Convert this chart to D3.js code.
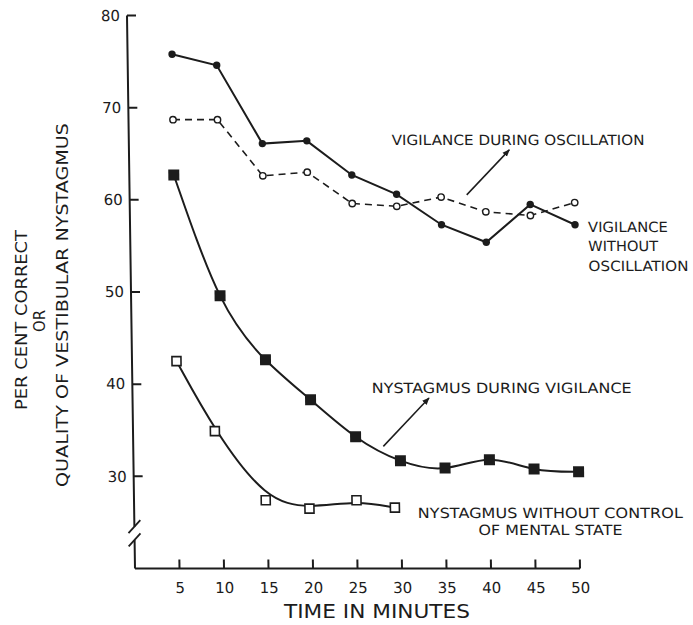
<!DOCTYPE html>
<html>
<head>
<meta charset="utf-8">
<script src="https://cdn.jsdelivr.net/npm/d3@7"></script>
<style>
body { margin: 0; background: #fff; }
svg { display: block; font-family: "DejaVu Sans", sans-serif; }
</style>
</head>
<body>
<div id="chart"></div>
<script>
var width = 693;
var height = 625;
var ink = "#1c1c1c";

// minutes of the session
var minutes = [5, 10, 15, 20, 25, 30, 35, 40, 45, 50];
var yTicks = [30, 40, 50, 60, 70, 80];

// per cent correct
var vigilanceWithout = [75.8, 74.6, 66.1, 66.4, 62.7, 60.6, 57.3, 55.4, 59.5, 57.3];
var vigilanceDuring = [68.7, 68.7, 62.6, 63.0, 59.6, 59.3, 60.3, 58.7, 58.3, 59.7];

// quality of vestibular nystagmus
var nystagmusVigilance = [62.7, 49.6, 42.65, 38.3, 34.3, 31.7, 30.9, 31.8, 30.8, 30.5];
var uncontrolledMinutes = [5, 9.2, 14.8, 19.7, 25, 29.3];
var nystagmusUncontrolled = [42.5, 34.9, 27.4, 26.5, 27.4, 26.6];

var svg = d3.select("#chart")
    .append("svg")
    .attr("width", width)
    .attr("height", height);

svg.append("rect")
    .attr("width", width)
    .attr("height", height)
    .attr("fill", "#fff");

svg.append("defs")
    .append("marker")
    .attr("id", "head")
    .attr("viewBox", "0 0 10 10")
    .attr("refX", 9)
    .attr("refY", 5)
    .attr("markerWidth", 5)
    .attr("markerHeight", 5)
    .attr("orient", "auto")
    .append("path")
    .attr("d", "M0,1L10,5L0,9z")
    .attr("fill", ink);

var x = d3.scaleLinear()
    .domain([0, 50])
    .range([135, 580]);

var y = d3.scaleLinear()
    .domain([20, 80])
    .range([568.5, 15.5]);

// the original drawing leans a little: left axis tilts right toward the bottom
var plot = svg.append("g")
    .attr("transform", "translate(0," + y(20) + ") skewX(0.83) translate(0," + (-y(20)) + ")");

// x axis (labels from d3, tick marks drawn inward by hand)
var gx = plot.append("g")
    .attr("transform", "translate(0," + y(20) + ")")
    .call(d3.axisBottom(x)
        .tickValues(minutes)
        .tickSize(0)
        .tickPadding(14));
gx.select(".domain").remove();
gx.selectAll("line").remove();
gx.attr("font-size", 15).attr("font-family", null);
gx.selectAll("text").attr("fill", ink);

plot.selectAll(".xtick")
    .data(minutes)
    .enter()
    .append("line")
    .attr("x1", function(d) { return x(d); })
    .attr("x2", function(d) { return x(d); })
    .attr("y1", y(20))
    .attr("y2", y(20) - 9)
    .attr("stroke", ink)
    .attr("stroke-width", 2);

plot.append("line")
    .attr("x1", x(0))
    .attr("x2", x(50))
    .attr("y1", y(20))
    .attr("y2", y(20))
    .attr("stroke", ink)
    .attr("stroke-width", 2);

// y axis
var gy = plot.append("g")
    .attr("transform", "translate(" + x(0) + ",0)")
    .call(d3.axisLeft(y)
        .tickValues(yTicks)
        .tickSize(0)
        .tickPadding(7));
gy.select(".domain").remove();
gy.selectAll("line").remove();
gy.attr("font-size", 15).attr("font-family", null);
gy.selectAll("text").attr("fill", ink);

plot.selectAll(".ytick")
    .data(yTicks)
    .enter()
    .append("line")
    .attr("x1", x(0))
    .attr("x2", x(0) + 9)
    .attr("y1", function(d) { return y(d); })
    .attr("y2", function(d) { return y(d); })
    .attr("stroke", ink)
    .attr("stroke-width", 2);

var breakHigh = 24.54;
var breakLow = 23.1;

plot.append("path")
    .attr("d", "M" + x(0) + "," + y(80) + "V" + y(breakHigh) +
        "M" + x(0) + "," + y(breakLow) + "V" + y(20))
    .attr("fill", "none")
    .attr("stroke", ink)
    .attr("stroke-width", 2);

[breakHigh, breakLow].forEach(function(b) {
    plot.append("line")
        .attr("x1", x(0) - 6)
        .attr("y1", y(b) + 6.5)
        .attr("x2", x(0) + 6)
        .attr("y2", y(b) - 6.5)
        .attr("stroke", ink)
        .attr("stroke-width", 1.8);
});

// series
function pairs(xs, ys) {
    return ys.map(function(v, i) {
        return {m: xs[i], v: v};
    });
}

function line(curve) {
    return d3.line()
        .x(function(d) { return x(d.m); })
        .y(function(d) { return y(d.v); })
        .curve(curve);
}

var without = pairs(minutes, vigilanceWithout);
var during = pairs(minutes, vigilanceDuring);
var nysV = pairs(minutes, nystagmusVigilance);
var nysU = pairs(uncontrolledMinutes, nystagmusUncontrolled);

plot.append("path")
    .datum(nysV)
    .attr("fill", "none")
    .attr("stroke", ink)
    .attr("stroke-width", 2)
    .attr("d", line(d3.curveNatural));

// hand-faired curve: smoothed rather than through every square
plot.append("path")
    .datum(nysU)
    .attr("fill", "none")
    .attr("stroke", ink)
    .attr("stroke-width", 2)
    .attr("d", line(d3.curveBasis));

plot.append("path")
    .datum(during)
    .attr("fill", "none")
    .attr("stroke", ink)
    .attr("stroke-width", 1.6)
    .attr("stroke-dasharray", "7,5")
    .attr("d", line(d3.curveLinear));

plot.append("path")
    .datum(without)
    .attr("fill", "none")
    .attr("stroke", ink)
    .attr("stroke-width", 2)
    .attr("d", line(d3.curveLinear));

plot.selectAll(".fsq")
    .data(nysV)
    .enter()
    .append("rect")
    .attr("x", function(d) { return x(d.m) - 5.5; })
    .attr("y", function(d) { return y(d.v) - 5.5; })
    .attr("width", 11)
    .attr("height", 11)
    .attr("fill", ink);

plot.selectAll(".osq")
    .data(nysU)
    .enter()
    .append("rect")
    .attr("x", function(d) { return x(d.m) - 4.5; })
    .attr("y", function(d) { return y(d.v) - 4.5; })
    .attr("width", 9)
    .attr("height", 9)
    .attr("fill", "#fff")
    .attr("stroke", ink)
    .attr("stroke-width", 1.6);

plot.selectAll(".oc")
    .data(during)
    .enter()
    .append("circle")
    .attr("cx", function(d) { return x(d.m); })
    .attr("cy", function(d) { return y(d.v); })
    .attr("r", 3.2)
    .attr("fill", "#fff")
    .attr("stroke", ink)
    .attr("stroke-width", 1.4);

plot.selectAll(".fc")
    .data(without)
    .enter()
    .append("circle")
    .attr("cx", function(d) { return x(d.m); })
    .attr("cy", function(d) { return y(d.v); })
    .attr("r", 3.7)
    .attr("fill", ink);

// labels and arrows, placed in data units
function note(t, m, v, len, anchor) {
    plot.append("text")
        .attr("x", x(m))
        .attr("y", y(v))
        .attr("font-size", 14)
        .attr("fill", ink)
        .attr("text-anchor", anchor || "start")
        .attr("textLength", len)
        .attr("lengthAdjust", "spacingAndGlyphs")
        .text(t);
}

function arrow(m1, v1, m2, v2) {
    plot.append("line")
        .attr("x1", x(m1))
        .attr("y1", y(v1))
        .attr("x2", x(m2))
        .attr("y2", y(v2))
        .attr("stroke", ink)
        .attr("stroke-width", 1.5)
        .attr("marker-end", "url(#head)");
}

note("VIGILANCE DURING OSCILLATION", 29.53, 66.0, 253);
arrow(37.88, 60.54, 42.74, 65.42);

note("VIGILANCE", 51.45, 56.56, 80);
note("WITHOUT", 51.45, 54.4, 70);
note("OSCILLATION", 51.45, 52.23, 100);

note("NYSTAGMUS DURING VIGILANCE", 26.88, 39.04, 260);
arrow(28.1, 33.25, 33.31, 38.5);

note("NYSTAGMUS WITHOUT CONTROL", 46.75, 25.5, 265, "middle");
note("OF MENTAL STATE", 46.75, 23.68, 144, "middle");

// axis titles
svg.append("text")
    .attr("x", 377)
    .attr("y", 618)
    .attr("font-size", 19)
    .attr("fill", ink)
    .attr("text-anchor", "middle")
    .attr("textLength", 186)
    .attr("lengthAdjust", "spacingAndGlyphs")
    .text("TIME IN MINUTES");

function sideTitle(t, bx, cy, len) {
    svg.append("text")
        .attr("transform", "translate(" + bx + "," + cy + ") rotate(-90)")
        .attr("font-size", 16)
        .attr("fill", ink)
        .attr("text-anchor", "middle")
        .attr("textLength", len)
        .attr("lengthAdjust", "spacingAndGlyphs")
        .text(t);
}

sideTitle("PER CENT CORRECT", 26.7, 320, 180);
sideTitle("OR", 45, 321, 22);
sideTitle("QUALITY OF VESTIBULAR NYSTAGMUS", 68, 305, 364);
</script>
</body>
</html>
